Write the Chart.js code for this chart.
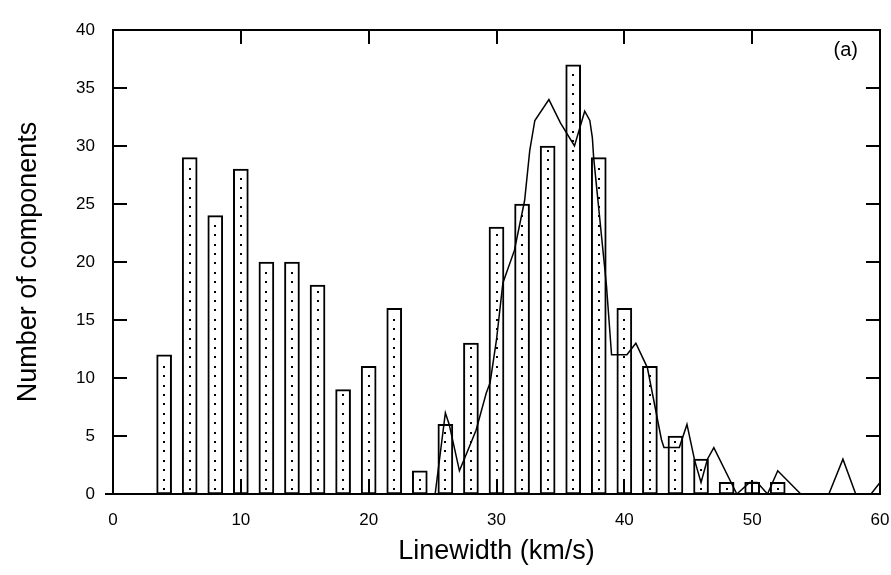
<!DOCTYPE html>
<html>
<head>
<meta charset="utf-8">
<script src="https://cdn.jsdelivr.net/npm/chart.js@4/dist/chart.umd.min.js"></script>
<style>
  html, body { margin: 0; padding: 0; background: #ffffff; }
  #wrap { width: 891px; height: 575px; position: relative; }
</style>
</head>
<body>
<div id="wrap"><canvas id="c" width="891" height="575"></canvas></div>
<script>
// Histogram bins (km/s) and counts
const barCenters = [4, 6, 8, 10, 12, 14, 16, 18, 20, 22, 24, 26, 28, 30, 32, 34, 36, 38, 40, 42, 44, 46, 48, 50, 52];
const barCounts  = [12, 29, 24, 28, 20, 20, 18, 9, 11, 16, 2, 6, 13, 23, 25, 30, 37, 29, 16, 11, 5, 3, 1, 1, 1];

// Overlaid curve
const lineX = [25.2, 26, 26.3, 27.1, 27.7, 28.4, 29.2, 29.5, 30, 30.5, 31.4, 32.2, 32.6, 33, 34.1, 35, 36.1, 36.9, 37.3, 37.5, 37.6, 38.6, 39, 40.2, 40.9, 41.8, 42.9, 43.1, 44.3, 44.9, 45.5, 46, 46.5, 47, 48.8, 49.8, 50.4, 51.2, 52, 53.8, 56, 57.1, 58.1, 59.3, 60];
const lineY = [0, 7, 6, 2, 3.6, 5.5, 8.7, 9.6, 13.3, 18.2, 21, 25.3, 29.6, 32.2, 34, 32, 30, 33, 32.2, 30.7, 29, 18, 12, 12, 13, 10.9, 4.7, 4, 4, 6, 2.9, 1, 3, 4, 0, 1, 1, 0, 2, 0, 0, 3, 0, 0, 1];

// Axis ticks
const xTickValues = [0, 10, 20, 30, 40, 50, 60];
const yTickValues = [0, 5, 10, 15, 20, 25, 30, 35, 40];

const xLabel = 'Linewidth (km/s)';
const yLabel = 'Number of components';
const panelLabel = '(a)';

const FONT = "'Liberation Sans', Arial, Helvetica, sans-serif";

const framePlugin = {
  id: 'frame',
  afterDatasetsDraw(chart) {
    const ctx = chart.ctx;
    const a = chart.chartArea;
    const xs = chart.scales.x, ys = chart.scales.y;
    ctx.save();
    // dots inside bars
    const meta = chart.getDatasetMeta(0);
    ctx.fillStyle = '#000';
    meta.data.forEach(el => {
      const p = el.getProps(['x', 'y', 'base'], true);
      for (let yy = p.base - 5; yy > p.y + 4; yy -= 9.4) {
        ctx.fillRect(Math.round(p.x) - 1, Math.round(yy) - 1, 2, 2);
      }
    });
    // frame
    ctx.strokeStyle = '#000';
    ctx.lineWidth = 2;
    ctx.strokeRect(a.left, a.top, a.right - a.left, a.bottom - a.top);
    ctx.beginPath();
    ctx.moveTo(a.left - 8, a.bottom);
    ctx.lineTo(a.right, a.bottom);
    ctx.stroke();
    // inward ticks
    const L = 14;
    ctx.beginPath();
    xTickValues.forEach(v => {
      const px = Math.round(xs.getPixelForValue(v));
      ctx.moveTo(px, a.top); ctx.lineTo(px, a.top + L);
      ctx.moveTo(px, a.bottom); ctx.lineTo(px, a.bottom - L);
    });
    yTickValues.forEach(v => {
      const py = Math.round(ys.getPixelForValue(v));
      ctx.moveTo(a.left, py); ctx.lineTo(a.left + L, py);
      ctx.moveTo(a.right, py); ctx.lineTo(a.right - L, py);
    });
    ctx.stroke();
    // panel label
    ctx.fillStyle = '#000';
    ctx.font = '20px ' + FONT;
    ctx.textAlign = 'right';
    ctx.textBaseline = 'middle';
    ctx.fillText(panelLabel, a.right - 22, a.top + 20);
    ctx.restore();
  }
};

new Chart(document.getElementById('c'), {
  type: 'bar',
  data: {
    datasets: [
      {
        type: 'bar',
        data: barCenters.map((x, i) => ({ x: x, y: barCounts[i] })),
        backgroundColor: '#ffffff',
        borderColor: '#000000',
        borderWidth: 2,
        borderSkipped: false,
        barThickness: 15,
        order: 2
      },
      {
        type: 'line',
        data: lineX.map((x, i) => ({ x: x, y: lineY[i] })),
        borderColor: '#000000',
        borderWidth: 1.5,
        pointRadius: 0,
        tension: 0,
        fill: false,
        order: 1
      }
    ]
  },
  options: {
    responsive: false,
    animation: false,
    events: [],
    layout: { padding: { top: 30, right: 0, left: 0, bottom: 0 } },
    plugins: { legend: { display: false }, tooltip: { enabled: false } },
    scales: {
      x: {
        type: 'linear',
        min: 0, max: 60,
        offset: false,
        afterFit(s) { s.height = 81; s.paddingRight = 11; s.paddingLeft = 0; },
        afterBuildTicks(s) { s.ticks = xTickValues.map(v => ({ value: v })); },
        grid: { display: false, drawTicks: false },
        border: { display: false },
        ticks: { color: '#000', font: { family: FONT, size: 17 }, padding: 16, maxRotation: 0 },
        title: { display: true, text: xLabel, color: '#000', font: { family: FONT, size: 27 }, padding: { top: 0, bottom: 7 } }
      },
      y: {
        min: 0, max: 40,
        afterFit(s) { s.width = 113; },
        afterBuildTicks(s) { s.ticks = yTickValues.map(v => ({ value: v })); },
        grid: { display: false, drawTicks: false },
        border: { display: false },
        ticks: { color: '#000', font: { family: FONT, size: 17 }, padding: 18 },
        title: { display: true, text: yLabel, color: '#000', font: { family: FONT, size: 27 }, padding: { top: 12, bottom: 0 } }
      }
    }
  },
  plugins: [framePlugin]
});
</script>
</body>
</html>
